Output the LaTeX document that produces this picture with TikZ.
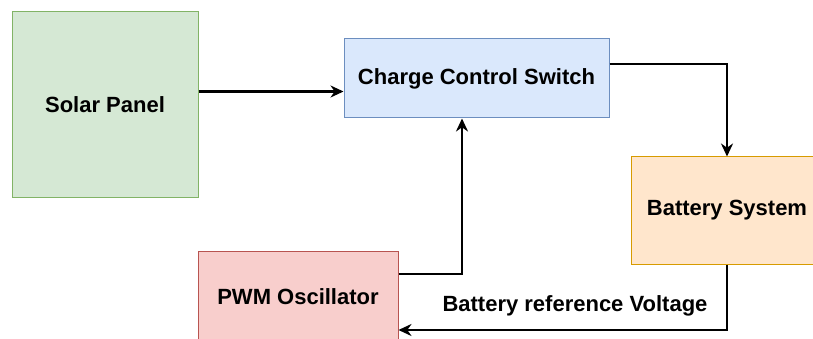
\documentclass[tikz,border=0pt]{standalone}
\usepackage{fontspec}
\setmainfont{Liberation Sans}
\usetikzlibrary{arrows.meta}
\definecolor{gfill}{HTML}{D5E8D4}\definecolor{gline}{HTML}{82B366}
\definecolor{bfill}{HTML}{DAE8FC}\definecolor{bline}{HTML}{6C8EBF}
\definecolor{ofill}{HTML}{FFE6CC}\definecolor{oline}{HTML}{D79B00}
\definecolor{rfill}{HTML}{F8CECC}\definecolor{rline}{HTML}{B85450}
\begin{document}
\begin{tikzpicture}[x=1pt,y=-1pt,
  box/.style={rectangle,draw,line width=1pt,inner sep=0pt,font=\fontsize{22}{26}\selectfont\bfseries},
  arr/.style={line width=2.4pt,-{Stealth[length=13pt,width=12pt]}},
  lbl/.style={font=\fontsize{22}{26}\selectfont\bfseries}]
\useasboundingbox[fill=white] (0,0) rectangle (813,339);
\node[box,fill=gfill,draw=gline,minimum width=186pt,minimum height=185pt] (solar) at (105,104.5) {Solar Panel};
\node[box,fill=bfill,draw=bline,minimum width=265pt,minimum height=79pt] (ccs) at (476.5,78.5) {Charge Control Switch};
\node[box,fill=ofill,draw=oline,minimum width=192pt,minimum height=107pt] (bat) at (727,210.5) {Battery System};
\node[box,fill=rfill,draw=rline,minimum width=200pt,minimum height=92pt] (pwm) at (298,297) {PWM Oscillator};
\coordinate (s1) at ([yshift=13pt]solar.east);
\draw[arr] (s1) -- (s1 -| ccs.west);
\draw[arr] ([yshift=14.5pt]ccs.east) -| (bat.north);
\draw[arr] ([yshift=23pt]pwm.east) -| ([xshift=-14.5pt]ccs.south);
\draw[arr] (bat.south) |- ([yshift=-33pt]pwm.east);
\node[lbl] (ref) at (575,306) {Battery reference Voltage};
\end{tikzpicture}
\end{document}
